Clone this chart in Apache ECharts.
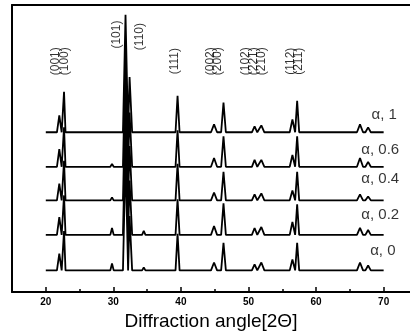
<!DOCTYPE html>
<html>
<head>
<meta charset="utf-8">
<script src="https://cdn.jsdelivr.net/npm/echarts@6/dist/echarts.min.js"></script>
<style>
  html, body { margin: 0; padding: 0; background: #fff; }
  #chart { width: 410px; height: 336px; }
</style>
</head>
<body>
<div id="chart"></div>
<script>
// peak positions (2-theta, deg) and base half-widths, shared by all samples
const peakAngles = [22.0, 22.7, 27.5, 29.8, 31.8, 32.4, 34.5, 39.5, 44.9, 46.3, 50.9, 51.9, 56.5, 57.2, 66.5, 67.7];
const peakWidths = [0.35, 0.22, 0.25, 0.25, 0.38, 0.38, 0.25, 0.3, 0.45, 0.35, 0.4, 0.45, 0.4, 0.3, 0.45, 0.4];

// sample names, vertical offsets of each pattern, peak heights (arb. units)
const sampleNames = ['α, 1', 'α, 0.6', 'α, 0.4', 'α, 0.2', 'α, 0'];
const sampleOffsets = [162, 127, 93, 58, 22];
const heightsA1 = [17, 41, 1, 0, 119, 56, 0, 37, 8, 30, 6, 7, 13, 32, 8, 5];
const heightsA06 = [18, 40, 0, 3, 116, 55, 2, 37, 9, 31, 7, 7, 12, 31, 9, 5];
const heightsA04 = [17, 40, 2, 3, 116, 55, 2, 37, 8, 29, 6, 7, 10, 29, 6, 4];
const heightsA02 = [18, 40, 2, 7, 116, 55, 4, 36, 9, 32, 7, 8, 13, 31, 7, 5];
const heightsA0 = [17, 40, 0, 7, 116, 55, 3, 37, 8, 28, 6, 8, 11, 28, 8, 5];
const sampleHeights = [heightsA1, heightsA06, heightsA04, heightsA02, heightsA0];
const scanRange = [20, 70];

// sample label anchors [angle, level]
const sampleLabelPos = [[68.2, 180], [66.7, 144], [66.7, 115], [66.7, 78], [68.0, 42]];

// reflection labels: text, angle, level
const hklText = ['(001)', '(100)', '(101)', '(110)', '(111)', '(002)', '(200)', '(102)', '(221)', '(210)', '(112)', '(211)'];
const hklAngle = [21.4, 22.8, 30.5, 33.9, 39.1, 44.4, 45.4, 49.6, 50.8, 52.0, 56.2, 57.4];
const hklLevel = [234, 234, 261, 259, 234, 234, 234, 234, 234, 234, 234, 234];

// x axis ticks
const majorTicks = [20, 30, 40, 50, 60, 70];
const minorTicks = [25, 35, 45, 55, 65];

function buildPattern(heights, offset) {
  const pts = [[scanRange[0], offset]];
  peakAngles.forEach(function (p, i) {
    const h = heights[i];
    if (!h) return;
    const w = peakWidths[i];
    pts.push([p - w, offset], [p, offset + h], [p + w, offset]);
  });
  pts.push([scanRange[1], offset]);
  return pts;
}

const chart = echarts.init(document.getElementById('chart'));

const series = sampleNames.map(function (name, i) {
  return {
    name: name,
    type: 'line',
    data: buildPattern(sampleHeights[i], sampleOffsets[i]),
    showSymbol: false,
    lineStyle: { color: '#000', width: 1.8 },
    z: 2
  };
});

series.push({
  type: 'scatter',
  symbolSize: 0,
  silent: true,
  data: sampleNames.map(function (n, i) { return { name: n, value: sampleLabelPos[i] }; }),
  label: {
    show: true,
    position: 'right',
    distance: 0,
    formatter: '{b}',
    color: '#000',
    fontSize: 15,
    fontFamily: 'Liberation Sans, Arial, sans-serif'
  },
  z: 5
});

series.push({
  type: 'scatter',
  symbolSize: 0,
  silent: true,
  data: hklText.map(function (t, i) { return { name: t, value: [hklAngle[i], hklLevel[i]] }; }),
  label: {
    show: true,
    position: 'inside',
    rotate: 90,
    formatter: '{b}',
    color: '#000',
    fontSize: 12,
    fontFamily: 'Liberation Sans, Arial, sans-serif'
  },
  z: 5
});

chart.setOption({
  animation: false,
  backgroundColor: '#fff',
  grid: { left: 12, right: 0, top: 5, bottom: 40 },
  xAxis: [
    {
      type: 'value', min: 15, max: 73.9, position: 'bottom',
      axisLine: { show: true, lineStyle: { color: '#000', width: 2 } },
      axisTick: { show: true, inside: true, length: 5, customValues: majorTicks, lineStyle: { color: '#000', width: 1.5 } },
      axisLabel: {
        show: true, customValues: majorTicks, margin: 5, color: '#000',
        fontSize: 10, fontWeight: 'bold', fontFamily: 'Liberation Sans Narrow, Liberation Sans, Arial, sans-serif'
      },
      splitLine: { show: false },
      name: 'Diffraction angle[2Θ]',
      nameLocation: 'middle',
      nameGap: 13,
      nameTextStyle: { color: '#000', fontSize: 19, fontFamily: 'Liberation Sans, Arial, sans-serif' }
    },
    {
      type: 'value', min: 15, max: 73.9, position: 'bottom',
      axisLine: { show: false },
      axisTick: { show: true, inside: true, length: 3, customValues: minorTicks, lineStyle: { color: '#000', width: 1.5 } },
      axisLabel: { show: false },
      splitLine: { show: false }
    },
    {
      type: 'value', min: 15, max: 73.9, position: 'top',
      axisLine: { show: true, lineStyle: { color: '#000', width: 2 } },
      axisTick: { show: false },
      axisLabel: { show: false },
      splitLine: { show: false }
    }
  ],
  yAxis: {
    type: 'value', min: 0, max: 291,
    axisLine: { show: true, lineStyle: { color: '#000', width: 2 } },
    axisTick: { show: false },
    axisLabel: { show: false },
    splitLine: { show: false }
  },
  series: series
});
</script>
</body>
</html>
